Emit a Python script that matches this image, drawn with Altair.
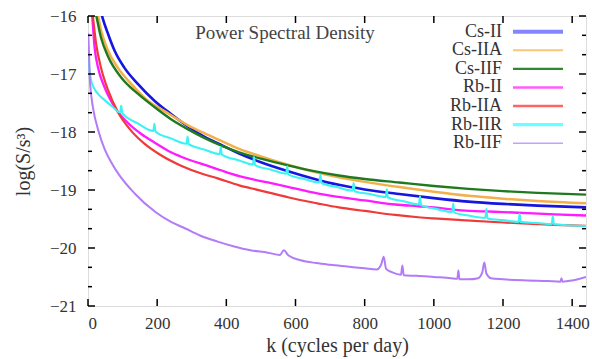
import altair as alt
import pandas as pd

FONT = "Liberation Serif"

names = ["Cs-II", "Cs-IIA", "Cs-IIF", "Rb-II", "Rb-IIA", "Rb-IIR", "Rb-IIF"]
colors = ["#1616e0", "#f3b04a", "#1f7a1f", "#ff1aff", "#f03a3a", "#3cf2f2", "#b27cf6"]
widths = [2.6, 2.0, 2.8, 3.2, 1.8, 2.2, 2.0]
leg_colors = ["#8484ff", "#f6c877", "#2f8a2f", "#ff5cff", "#ff6464", "#6cffff", "#c4a0ff"]
leg_widths = [4.0, 2.0, 2.4, 2.4, 2.6, 3.4, 1.5]

k_cs2 = [30, 43, 58, 77, 105, 144, 192, 240, 288, 336, 384, 437, 500, 581, 650, 725, 800, 900, 1000, 1100, 1200, 1300, 1440]
v_cs2 = [-15.75, -16.05, -16.31, -16.60, -16.89, -17.17, -17.46, -17.69, -17.90, -18.08, -18.22, -18.37, -18.52, -18.68,
         -18.80, -18.91, -18.99, -19.07, -19.14, -19.20, -19.24, -19.27, -19.30]

k_cs2a = [18, 29, 38, 58, 86, 125, 173, 221, 288, 336, 384, 437, 500, 581, 650, 725, 800, 900, 1000, 1100, 1200, 1300, 1440]
v_cs2a = [-15.75, -16.0, -16.25, -16.6, -16.89, -17.17, -17.46, -17.64, -17.88, -18.02, -18.15, -18.29, -18.42, -18.57,
          -18.68, -18.78, -18.86, -18.95, -19.03, -19.10, -19.15, -19.19, -19.23]

k_cs2f = [14, 24, 38, 58, 96, 144, 192, 240, 288, 336, 384, 437, 500, 581, 650, 725, 800, 900, 1000, 1100, 1200, 1300, 1440]
v_cs2f = [-15.75, -16.0, -16.38, -16.70, -17.06, -17.34, -17.57, -17.78, -17.95, -18.10, -18.23, -18.35, -18.46, -18.58,
          -18.67, -18.75, -18.81, -18.87, -18.93, -18.98, -19.02, -19.05, -19.08]

k_rb2 = [8, 12, 19, 29, 48, 77, 115, 153, 192, 240, 288, 345, 384, 437, 471, 520, 581, 663, 725, 800, 888, 955, 1000,
         1080, 1150, 1200, 1272, 1350, 1440]
v_rb2 = [-15.75, -16.0, -16.54, -16.89, -17.23, -17.57, -17.84, -18.03, -18.18, -18.35, -18.47, -18.58, -18.66, -18.76,
         -18.81, -18.87, -18.95, -19.06, -19.12, -19.18, -19.25, -19.28, -19.30, -19.35, -19.37, -19.38, -19.40, -19.42, -19.44]

k_rb2a = [9, 14, 24, 38, 58, 86, 125, 163, 211, 269, 330, 375, 437, 471, 520, 581, 663, 725, 800, 888, 955, 1000, 1080,
          1200, 1272, 1350, 1440]
v_rb2a = [-15.75, -16.0, -16.5, -16.9, -17.28, -17.65, -17.98, -18.2, -18.4, -18.58, -18.72, -18.8, -18.92, -18.97,
          -19.04, -19.13, -19.23, -19.30, -19.36, -19.43, -19.47, -19.49, -19.52, -19.56, -19.58, -19.60, -19.62]

k_rb2r = [1, 4, 8, 14, 20, 30, 48, 70, 93, 96, 99, 144, 189, 192, 195, 240, 285, 288, 291, 336, 381, 384, 387, 437,
          477, 480, 483, 530, 573, 576, 579, 625, 669, 672, 675, 720, 765, 768, 771, 815, 861, 864, 867, 910, 957, 960,
          963, 1010, 1053, 1056, 1059, 1100, 1149, 1152, 1155, 1200, 1245, 1248, 1251, 1300, 1341, 1344, 1347, 1440]
v_rb2r = [-16.65, -16.92, -17.08, -17.2, -17.27, -17.35, -17.45, -17.56, -17.66, -17.55, -17.67, -17.85, -17.98, -17.86,
          -17.99, -18.11, -18.20, -18.08, -18.21, -18.30, -18.38, -18.26, -18.39, -18.49, -18.56, -18.43, -18.57, -18.65,
          -18.72, -18.59, -18.73, -18.81, -18.87, -18.74, -18.88, -18.95, -19.01, -18.88, -19.02, -19.07, -19.12, -18.99,
          -19.13, -19.19, -19.25, -19.11, -19.26, -19.33, -19.38, -19.24, -19.39, -19.44, -19.48, -19.33, -19.49, -19.52,
          -19.55, -19.41, -19.55, -19.57, -19.59, -19.45, -19.59, -19.62]

k_rb2f = [1, 5, 10, 15, 30, 49, 70, 90, 135, 195, 240, 280, 322, 375, 420, 470, 520, 555, 566, 580, 615, 660, 700, 750,
          800, 835, 848, 855, 862, 880, 905, 909, 913, 950, 1000, 1050, 1068, 1071, 1074, 1100, 1128, 1140, 1146, 1152,
          1165, 1200, 1272, 1330, 1366, 1369, 1372, 1400, 1440]
v_rb2f = [-16.3, -17.05, -17.4, -17.6, -17.98, -18.31, -18.55, -18.74, -19.06, -19.38, -19.55, -19.66, -19.78, -19.89,
          -19.97, -20.04, -20.08, -20.12, -20.04, -20.13, -20.21, -20.26, -20.29, -20.32, -20.35, -20.37, -20.28, -20.15,
          -20.36, -20.42, -20.46, -20.30, -20.47, -20.48, -20.50, -20.52, -20.53, -20.39, -20.54, -20.54, -20.52, -20.42,
          -20.25, -20.44, -20.52, -20.54, -20.56, -20.57, -20.58, -20.52, -20.58, -20.56, -20.50]

xticks = [0, 200, 400, 600, 800, 1000, 1200, 1400]
yticks = [-21, -20, -19, -18, -17, -16]
yminor = [-20.667, -20.333, -19.667, -19.333, -18.667, -18.333, -17.667, -17.333, -16.667, -16.333]

series = [(k_cs2, v_cs2), (k_cs2a, v_cs2a), (k_cs2f, v_cs2f), (k_rb2, v_rb2),
          (k_rb2a, v_rb2a), (k_rb2r, v_rb2r), (k_rb2f, v_rb2f)]
rows = []
for i, (n, (ks, vs)) in enumerate(zip(names, series)):
    for kk, vv in zip(ks, vs):
        rows.append({"name": n, "ord": i, "k": kk, "v": vv})
df = pd.DataFrame(rows)

x_scale = alt.Scale(domain=[0, 1440], nice=False, zero=False)
y_scale = alt.Scale(domain=[-21, -16], nice=False, zero=False)
color_scale = alt.Scale(domain=names, range=colors)
width_scale = alt.Scale(domain=names, range=widths)

x_axis = alt.Axis(values=xticks, format="d", ticks=False, domain=False, grid=False,
                  labelFont=FONT, labelFontSize=17, labelColor="#333", labelPadding=9,
                  title="k (cycles per day)", titleFont=FONT, titleFontSize=20,
                  titleFontWeight="normal", titleColor="#333", titlePadding=4)
y_axis = alt.Axis(values=yticks, format="d", ticks=False, domain=False, grid=False,
                  labelFont=FONT, labelFontSize=17, labelColor="#333", labelPadding=12,
                  title="log(S/s³)", titleFont=FONT, titleFontSize=20,
                  titleFontWeight="normal", titleColor="#333", titlePadding=16)

X = lambda f: alt.X(f, scale=x_scale, axis=x_axis)
Y = lambda f: alt.Y(f, scale=y_scale, axis=y_axis)

lines = alt.Chart(df).mark_line(clip=True, interpolate="monotone").encode(
    x=X("k:Q"), y=Y("v:Q"),
    color=alt.Color("name:N", scale=color_scale, legend=None),
    strokeWidth=alt.StrokeWidth("name:N", scale=width_scale, legend=None),
    order=alt.Order("ord:Q"),
)

xt = pd.DataFrame({"k": xticks})
yt = pd.DataFrame({"v": yticks})
ym = pd.DataFrame({"v": yminor})
tick_style = dict(color="black", strokeWidth=1.5)
xb = alt.Chart(xt).mark_rule(**tick_style).encode(x=X("k:Q"), y=alt.value(290), y2=alt.value(283))
xtop = alt.Chart(xt).mark_rule(**tick_style).encode(x=X("k:Q"), y=alt.value(0), y2=alt.value(7))
yl = alt.Chart(yt).mark_rule(**tick_style).encode(y=Y("v:Q"), x=alt.value(0), x2=alt.value(7))
yr = alt.Chart(yt).mark_rule(**tick_style).encode(y=Y("v:Q"), x=alt.value(498), x2=alt.value(491))
yml = alt.Chart(ym).mark_rule(**tick_style).encode(y=Y("v:Q"), x=alt.value(0), x2=alt.value(4))
ymr = alt.Chart(ym).mark_rule(**tick_style).encode(y=Y("v:Q"), x=alt.value(498), x2=alt.value(494))

# legend rows placed in data units of the y scale (row spacing ~0.32 units)
leg_df = pd.DataFrame({"name": names, "i": list(range(len(names)))})
leg_base = alt.Chart(leg_df).transform_calculate(ly="-16.27 - datum.i * 0.3207")
leg_text = leg_base.mark_text(align="right", baseline="middle", font=FONT, fontSize=18, color="#333").encode(
    x=alt.value(414), y=Y("ly:Q"), text="name:N")
leg_lines = []
for i, n in enumerate(names):
    leg_lines.append(
        leg_base.transform_filter(alt.datum.name == n).mark_rule(
            color=leg_colors[i], strokeWidth=leg_widths[i]).encode(
            x=alt.value(425), x2=alt.value(475), y=Y("ly:Q")))

title_df = pd.DataFrame({"t": ["Power Spectral Density"]})
title = alt.Chart(title_df).mark_text(font=FONT, fontSize=19, color="#444", baseline="middle", align="center").encode(
    x=alt.value(197), y=alt.value(17), text="t:N")

chart = alt.layer(lines, xb, xtop, yl, yr, yml, ymr, *leg_lines, leg_text, title).properties(
    width=498, height=290,
    padding={"left": 88, "top": 16, "right": 6, "bottom": 53},
    autosize=alt.AutoSizeParams(type="none"),
).configure_view(stroke="black", strokeWidth=2.5).configure(background="white")

chart.save("out.html", embed_options={"renderer": "svg", "actions": False})
